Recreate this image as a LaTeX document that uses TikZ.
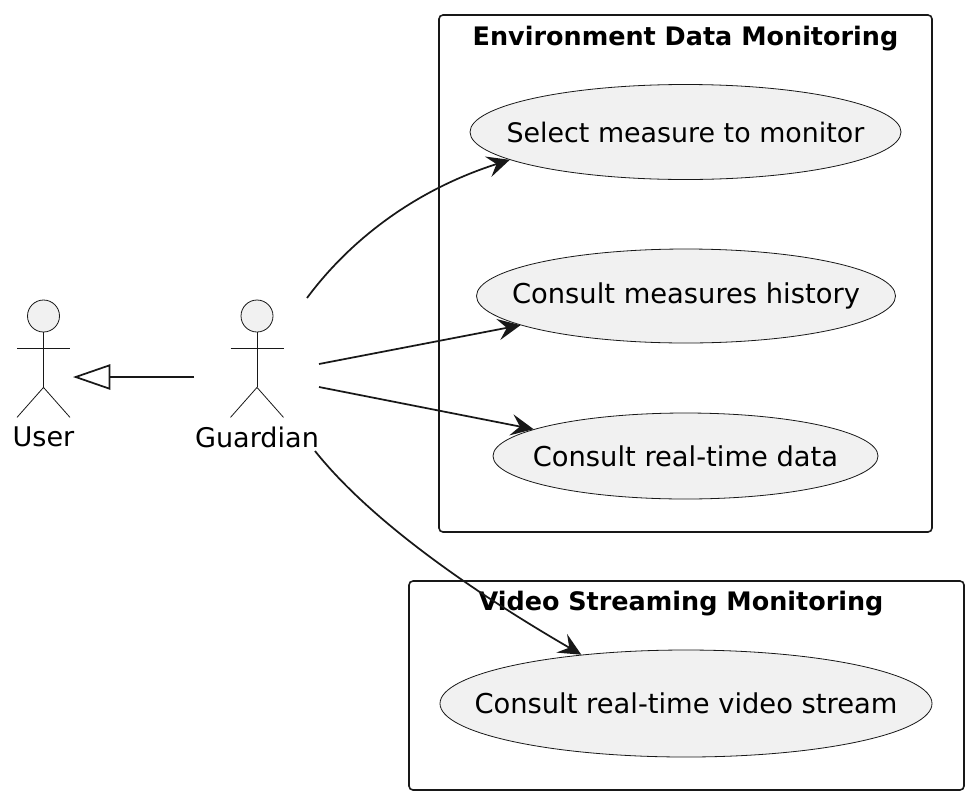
\documentclass[tikz,border=0pt]{standalone}
\usepackage{fontspec}
\setmainfont{DejaVu Sans}
\usetikzlibrary{shapes.geometric, arrows.meta, positioning, calc}
\definecolor{casecolor}{RGB}{241,241,241}
\definecolor{lineborder}{RGB}{24,24,24}
\tikzset{
    usecase/.style={ellipse, draw=lineborder, fill=casecolor, line width=0.6pt, inner xsep=-45pt, inner ysep=0pt,
        font=\fontsize{20.5}{24}\selectfont},
    sysbox/.style={rectangle, draw=lineborder, rounded corners=3pt, line width=1.2pt},
    systitle/.style={font=\fontsize{19.1}{24}\selectfont\bfseries},
    actorlabel/.style={font=\fontsize{20.3}{24}\selectfont},
    actorhead/.style={circle, draw=lineborder, fill=casecolor, line width=0.6pt, minimum size=24pt, inner sep=0pt},
    stick/.style={draw=lineborder, line width=0.6pt},
    arrow/.style={-{Stealth[length=17pt, width=16pt, inset=6.5pt]}, line width=1.3pt, draw=lineborder},
    genarrow/.style={-{Triangle[open, fill=white, length=28pt, width=19pt]}, line width=1.3pt, draw=lineborder}
}
\newcommand{\actorfigure}[1]{
    \draw[stick] (#1head.south) -- ++(0,55);
    \draw[stick] ($(#1head.south)+(-26.5,16)$) -- ++(53,0);
    \draw[stick] ($(#1head.south)+(-26.5,85)$) -- ($(#1head.south)+(0,55)$) -- ++(26.5,30);
}

\begin{document}
\begin{tikzpicture}[x=0.75pt, y=-0.75pt]
    \useasboundingbox (0,0) rectangle (973,800);

    % Boxes
    \node[sysbox, minimum width=369.75pt, minimum height=387.75pt] (envbox) at (685.5,273.5) {};
    \node[sysbox, minimum width=416.25pt, minimum height=156.75pt] (videobox) at (686.5,685.5) {};
    \node[systitle] (envtitle) at (685.5,38.5) {Environment Data Monitoring};
    \node[systitle] (videotitle) at (681,603.5) {Video Streaming Monitoring};

    % Use cases
    \node[usecase, minimum width=323.25pt, minimum height=71.25pt, font=\fontsize{20.15}{24}\selectfont] (select) at (685.5,132) {Select measure to monitor};
    \node[usecase, minimum width=314.25pt, minimum height=70.5pt] (history) at (686,296) {Consult measures history};
    \node[usecase, minimum width=288.75pt, minimum height=64.5pt] (realtime) at (685.5,456) {Consult real-time data};
    \node[usecase, minimum width=369pt, minimum height=80.25pt] (video) at (686,703.5) {Consult real-time video stream};

    % Actors
    \node[actorhead] (userhead) at (43.5,316) {};
    \node[actorhead] (guardianhead) at (257,316) {};
    \actorfigure{user}
    \actorfigure{guardian}
    \node[actorlabel] (userlabel) at (43.5,437) {User};
    \node[actorlabel] (guardianlabel) at (257,437) {Guardian};

    % Free ends near the actors
    \coordinate (userport) at (73,377);
    \coordinate (genstart) at (194,377);
    \coordinate (outa) at (307,298);
    \coordinate (outb) at (319,364);
    \coordinate (outc) at (319,387);
    \coordinate (outd) at (315,451);

    \draw[genarrow] (genstart) -- (userport);
    \draw[arrow] (outa) .. controls (350,240) and (415,190) .. (select.189.5);
    \draw[arrow] (outb) -- (history.190.2);
    \draw[arrow] (outc) -- (realtime.170);
    \draw[arrow] (outd) .. controls (370,520) and (470,590) .. (video.155.5);

\end{tikzpicture}
\end{document}
